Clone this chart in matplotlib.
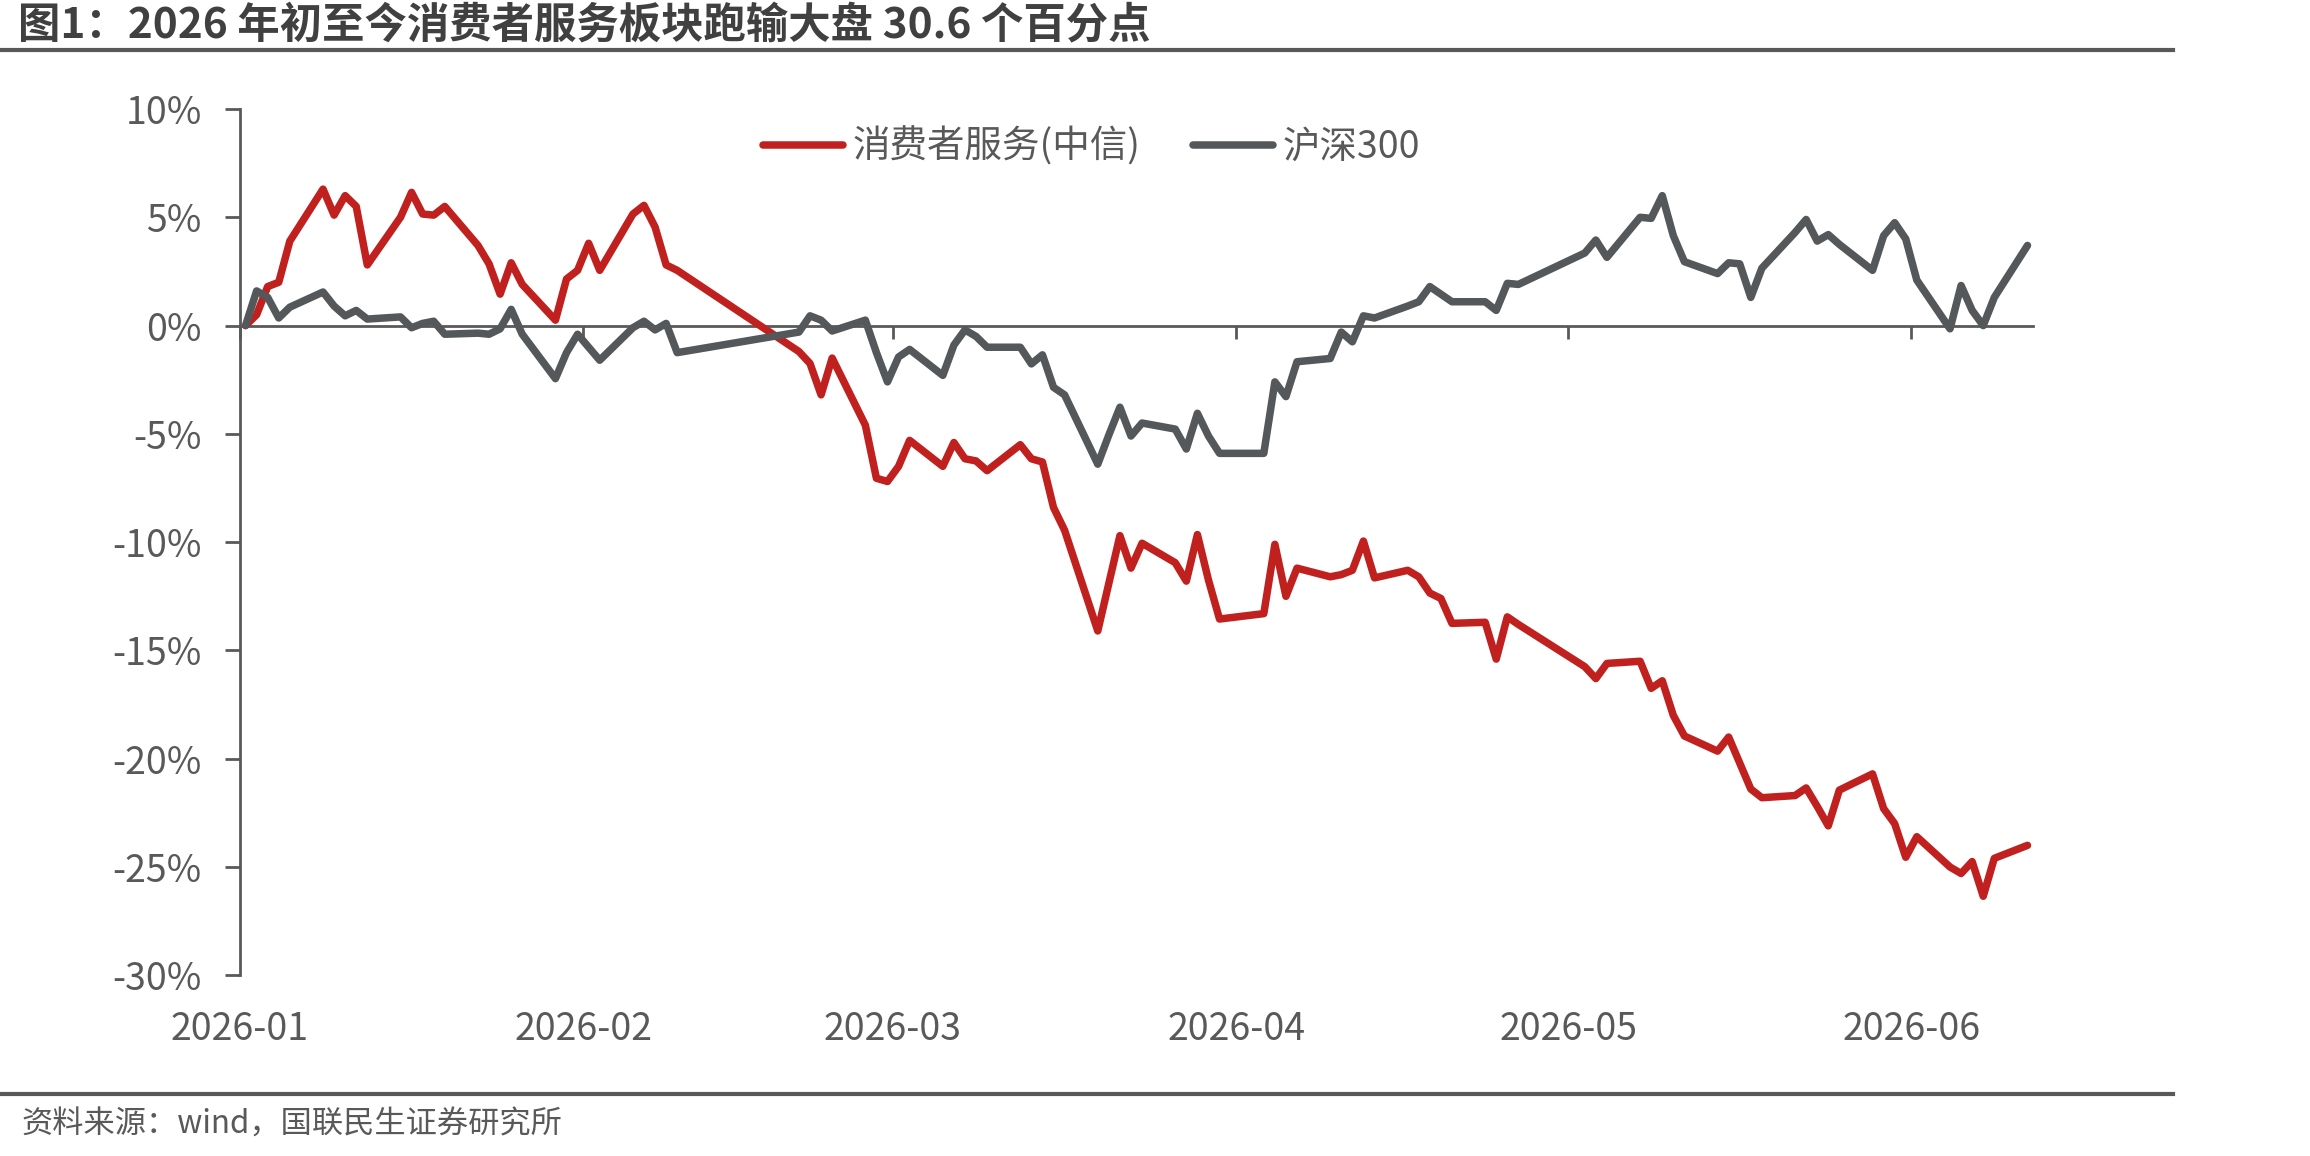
import matplotlib
matplotlib.use("Agg")
import matplotlib.pyplot as plt
import matplotlib.dates as mdates
from matplotlib.lines import Line2D
import pandas as pd
import numpy as np

plt.rcParams['font.family'] = ['Noto Sans CJK SC', 'DejaVu Sans']

TITLE = "图1：2026 年初至今消费者服务板块跑输大盘 30.6 个百分点"
SOURCE = "资料来源：wind，国联民生证券研究所"
SERIES_NAMES = ["消费者服务(中信)", "沪深300"]

# trading days (2026)
jan_days = [5, 6, 7, 8, 9, 12, 13, 14, 15, 16, 19, 20, 21, 22, 23, 26, 27, 28, 29, 30]
feb_days = [2, 3, 4, 5, 6, 9, 10, 11, 12, 13, 24, 25, 26, 27]
mar_days = [2, 3, 4, 5, 6, 9, 10, 11, 12, 13, 16, 17, 18, 19, 20, 23, 24, 25, 26, 27, 30, 31]
apr_days = [1, 2, 3, 7, 8, 9, 10, 13, 14, 15, 16, 17, 20, 21, 22, 23, 24, 27, 28, 29, 30]
may_days = [6, 7, 8, 11, 12, 13, 14, 15, 18, 19, 20, 21, 22, 25, 26, 27, 28, 29]
jun_days = [1, 2, 3, 4, 5, 8, 9, 10, 11, 12, 15]

# cumulative return, %
consumer = [
    0.0, 0.5, 1.8, 2.0, 3.9, 6.3, 5.1, 6.0, 5.5, 2.8, 5.0, 6.15, 5.15, 5.1, 5.5, 3.7, 2.85, 1.45, 2.9, 1.9,
    0.25, 2.15, 2.55, 3.8, 2.55, 5.15, 5.55, 4.55, 2.8, 2.55, -1.2, -1.75, -3.2, -1.5,
    -4.6, -7.05, -7.2, -6.5, -5.3, -6.5, -5.4, -6.15, -6.25, -6.7, -5.5, -6.15, -6.3, -8.4, -9.45,
    -14.1, -11.9, -9.7, -11.2, -10.05, -10.95, -11.8,
    -9.65, -11.75, -13.55, -13.3, -10.1, -12.5, -11.2, -11.6, -11.5, -11.3, -9.95, -11.65, -11.3, -11.6,
    -12.35, -12.6, -13.75, -13.7, -15.4, -13.45, -13.8,
    -15.75, -16.3, -15.6, -15.5, -16.75, -16.4, -18.0, -18.95, -19.65, -19.0, -20.2, -21.4, -21.8,
    -21.7, -21.35, -22.2, -23.1, -21.45,
    -20.7, -22.3, -23.0, -24.55, -23.6, -25.0, -25.3, -24.75, -26.35, -24.6, -24.0,
]
hs300 = [
    0.0, 1.6, 1.3, 0.35, 0.85, 1.55, 0.9, 0.45, 0.7, 0.3, 0.4, -0.1, 0.1, 0.2, -0.4, -0.35, -0.4, -0.15, 0.75, -0.4,
    -2.45, -1.25, -0.4, -1.0, -1.6, -0.1, 0.2, -0.2, 0.1, -1.25, -0.3, 0.45, 0.25, -0.25,
    0.25, -1.25, -2.6, -1.45, -1.1, -2.3, -0.9, -0.2, -0.5, -1.0, -1.0, -1.77, -1.35, -2.85, -3.2,
    -6.4, -5.05, -3.77, -5.1, -4.5, -4.78, -5.7,
    -4.05, -5.1, -5.9, -5.9, -2.6, -3.28, -1.67, -1.52, -0.3, -0.75, 0.45, 0.35, 0.9, 1.1,
    1.8, 1.45, 1.1, 1.1, 0.7, 1.95, 1.9,
    3.35, 3.95, 3.15, 5.0, 4.95, 6.0, 4.15, 2.95, 2.4, 2.9, 2.85, 1.3, 2.65,
    4.3, 4.9, 3.9, 4.2, 3.75,
    2.55, 4.15, 4.75, 4.0, 2.1, -0.15, 1.85, 0.7, 0.0, 1.3, 3.7,
]

y_ticks = [10, 5, 0, -5, -10, -15, -20, -25, -30]
x_tick_dates = ["2026-01-05", "2026-02-05", "2026-03-05", "2026-04-05", "2026-05-05", "2026-06-05"]
x_tick_labels = ["2026-01", "2026-02", "2026-03", "2026-04", "2026-05", "2026-06"]
x_range = ["2026-01-05", "2026-06-16"]

RED = "#C0211F"
GRAY = "#54585B"
TXT = "#595959"

dates = []
for m, days in zip(range(1, 7), [jan_days, feb_days, mar_days, apr_days, may_days, jun_days]):
    dates += [f"2026-{m:02d}-{d:02d}" for d in days]
x = mdates.date2num(pd.to_datetime(dates)) + 0.5  # points centred within the day slot

fig = plt.figure(figsize=(23.1, 11.56), dpi=100)
ax = fig.add_axes([0.1039, 0.15632, 0.7762, 0.74939])

ax.plot(x, consumer, color=RED, lw=5.4, solid_joinstyle='round', solid_capstyle='round',
        label=SERIES_NAMES[0], zorder=3)
ax.plot(x, hs300, color=GRAY, lw=5.4, solid_joinstyle='round', solid_capstyle='round',
        label=SERIES_NAMES[1], zorder=3)

xr = mdates.date2num(pd.to_datetime(x_range))
ax.set_xlim(xr[0], xr[1])
ax.set_ylim(-30, 10)

for s in ['top', 'right']:
    ax.spines[s].set_visible(False)
ax.spines['left'].set_color(TXT)
ax.spines['left'].set_linewidth(2.0)
ax.spines['bottom'].set_position(('data', 0))
ax.spines['bottom'].set_color(TXT)
ax.spines['bottom'].set_linewidth(2.0)
ax.spines['bottom'].set_zorder(2)

ax.set_yticks(y_ticks)
ax.set_yticklabels([f"{v}%" for v in y_ticks])
ax.tick_params(axis='y', direction='out', length=10.5, width=2, color=TXT,
               labelsize=27, labelcolor=TXT, pad=17)

xt = mdates.date2num(pd.to_datetime(x_tick_dates))
ax.set_xticks(xt)
ax.tick_params(axis='x', direction='out', length=9.5, width=2, color=TXT, labelbottom=False)

sec = ax.secondary_xaxis(0.0)
sec.set_xticks(xt)
sec.set_xticklabels(x_tick_labels)
sec.tick_params(axis='x', length=0, labelsize=27, labelcolor=TXT, pad=25)
sec.spines['bottom'].set_visible(False)

leg = ax.legend(loc='center', bbox_to_anchor=(0.475, 0.956), ncol=2, frameon=False,
                fontsize=27, handlelength=2.13, handletextpad=0.25, columnspacing=1.4)
for t in leg.get_texts():
    t.set_color(TXT)

fig.text(18 / 2310, 1 - 25 / 1156, TITLE, fontsize=30.5, fontweight='bold', color='#404040',
         ha='left', va='center')
fig.add_artist(Line2D([0, 0.9407], [1 - 50 / 1156] * 2, transform=fig.transFigure,
                      color=TXT, lw=3))
fig.add_artist(Line2D([0, 0.9407], [1 - 1094 / 1156] * 2, transform=fig.transFigure,
                      color=TXT, lw=3))
fig.text(21 / 2310, 1 - 1125 / 1156, SOURCE, fontsize=22.5, color=TXT, ha='left', va='center')

fig.savefig("out.png", dpi=100)
